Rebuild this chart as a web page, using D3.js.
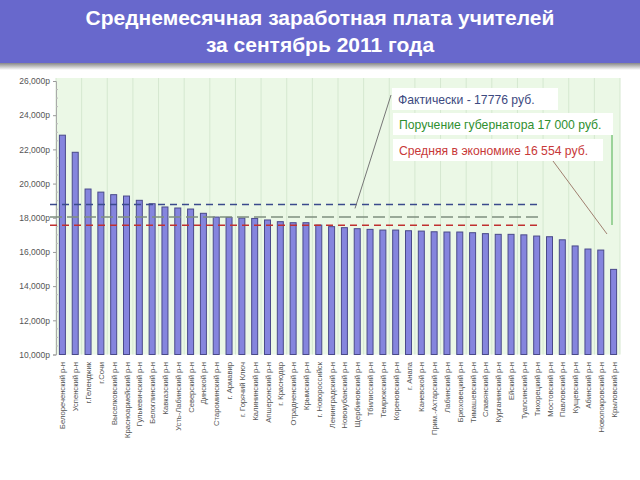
<!DOCTYPE html>
<html><head><meta charset="utf-8">
<script src="https://cdn.jsdelivr.net/npm/d3@7"></script>
<style>body{margin:0;background:#fff;}svg{display:block;font-family:"Liberation Sans",Arial,sans-serif;}</style>
</head><body>
<svg id="c" width="640" height="480"></svg>
<script>
const titleLines = ["Среднемесячная заработная плата учителей", "за сентябрь 2011 года"];
const categories = ["Белореченский р-н","Успенский р-н","г.Геленджик","г.Сочи","Выселковский р-н","Красноармейский р-н","Гулькевичский р-н","Белоглинский р-н","Кавказский р-н","Усть-Лабинский р-н","Северский р-н","Динской р-н","Староминский р-н","г. Армавир","г. Горячий Ключ","Калининский р-н","Апшеронский р-н","г. Краснодар","Отрадненский р-н","Крымский р-н","г. Новороссийск","Ленинградский р-н","Новокубанский р-н","Щербиновский р-н","Тбилисский р-н","Темрюкский р-н","Кореновский р-н","г. Анапа","Каневской р-н","Прим.-Ахтарский р-н","Лабинский р-н","Брюховецкий р-н","Тимашевский р-н","Славянский р-н","Курганинский р-н","Ейский р-н","Туапсинский р-н","Тихорецкий р-н","Мостовский р-н","Павловский р-н","Кущевский р-н","Абинский р-н","Новопокровский р-н","Крыловский р-н"];
const values = [22830,21830,19680,19500,19350,19270,19020,18820,18630,18570,18510,18260,18040,18020,17980,17960,17870,17770,17710,17710,17570,17480,17420,17360,17320,17280,17280,17240,17220,17180,17165,17165,17125,17070,17030,17030,17000,16930,16890,16710,16350,16170,16110,14980];
const yTicks = [10000,12000,14000,16000,18000,20000,22000,24000,26000];
const refLines = [
  {name:"Фактически  - 17776 руб.", pos:18780, color:"#3b4a8c", text:"#3d4a80", dash:"7,5"},
  {name:"Поручение губернатора 17 000 руб.", pos:18050, color:"#7f8f7f", text:"#2f8f2f", dash:"12,5"},
  {name:"Средняя в экономике 16 554 руб.", pos:17555, color:"#c03030", text:"#c83838", dash:"7,5"}
];

const svg = d3.select("#c");
const defs = svg.append("defs");
const g1 = defs.append("linearGradient").attr("id","sh").attr("x1",0).attr("y1",0).attr("x2",0).attr("y2",1);
g1.append("stop").attr("offset",0).attr("stop-color","#777");
g1.append("stop").attr("offset",1).attr("stop-color","#fff");
svg.append("rect").attr("x",0).attr("y",62).attr("width",640).attr("height",8).attr("fill","url(#sh)");
svg.append("rect").attr("x",0).attr("y",0).attr("width",640).attr("height",63).attr("fill","#6868cc");
svg.selectAll("text.title").data(titleLines).join("text").attr("class","title")
  .attr("x",320).attr("y",(d,i)=>25+i*27).attr("text-anchor","middle")
  .attr("fill","#fff").attr("font-weight","bold").attr("font-size","21px").text(d=>d);

const x = d3.scaleBand().domain(categories).range([56,620]).paddingInner(0).paddingOuter(0);
const y = d3.scaleLinear().domain([10000,26000]).range([354.5,81]);

svg.append("rect").attr("x",56).attr("y",78).attr("width",564).attr("height",276.5).attr("fill","#ebf8e6");
const gridIdx = d3.range(0, categories.length+1, 2);
svg.selectAll("line.vg").data(gridIdx).join("line").attr("class","vg")
  .attr("x1",i=>56+i*x.step()).attr("x2",i=>56+i*x.step())
  .attr("y1",78).attr("y2",354.5).attr("stroke","#d5e8d0").attr("stroke-width",1);

const yAxis = d3.axisLeft(y).tickValues(yTicks).tickSize(3).tickFormat(d=>d3.format(",")(d)+"р");
const ya = svg.append("g").attr("transform","translate(56,0)").call(yAxis);
ya.select(".domain").attr("stroke","#aaa");
ya.selectAll(".tick line").attr("stroke","#999");
ya.selectAll(".tick text").attr("fill","#555").attr("font-size","8.5px").attr("font-family","Liberation Sans, Arial, sans-serif");
const minor = d3.range(10000,26001,500).filter(v=>v%2000!==0);
svg.selectAll("line.mt").data(minor).join("line").attr("class","mt")
  .attr("x1",56).attr("x2",58).attr("y1",d=>y(d)).attr("y2",d=>y(d)).attr("stroke","#bbb");

const bw = 6;
svg.selectAll("rect.bar").data(values).join("rect").attr("class","bar")
  .attr("x",(d,i)=>x(categories[i])+x.bandwidth()/2-bw/2)
  .attr("y",d=>y(d)).attr("width",bw).attr("height",d=>y(10000)-y(d))
  .attr("fill","#8585de").attr("stroke","#4a4a8a").attr("stroke-width",1);

svg.selectAll("text.xl").data(categories).join("text").attr("class","xl")
  .attr("transform",d=>`translate(${x(d)+x.bandwidth()/2+3},362) rotate(-90)`)
  .attr("text-anchor","end").attr("fill","#555").attr("font-size","7.6px").text(d=>d);

svg.selectAll("line.ref").data(refLines).join("line").attr("class","ref")
  .attr("x1",50).attr("x2",540).attr("y1",d=>y(d.pos)).attr("y2",d=>y(d.pos))
  .attr("stroke",d=>d.color).attr("stroke-width",1.5).attr("stroke-dasharray",d=>d.dash);

svg.append("line").attr("x1",391).attr("y1",95).attr("x2",355).attr("y2",y(refLines[0].pos)+4).attr("stroke","#777").attr("stroke-width",1);
svg.append("line").attr("x1",612).attr("y1",130).attr("x2",612).attr("y2",225).attr("stroke","#66bb66").attr("stroke-width",1.2);
svg.append("line").attr("x1",553).attr("y1",161).attr("x2",607).attr("y2",234).attr("stroke","#a08070").attr("stroke-width",1);

const boxes = [{x:392,y:88,w:166},{x:393,y:113,w:220},{x:393,y:139,w:210}];
const lg = svg.selectAll("g.lg").data(refLines).join("g").attr("class","lg")
  .attr("transform",(d,i)=>`translate(${boxes[i].x},${boxes[i].y})`);
lg.append("rect").attr("width",(d,i)=>boxes[i].w).attr("height",22).attr("fill","#fff");
lg.append("text").attr("x",6).attr("y",15.5).attr("fill",d=>d.text).attr("font-size","12.2px")
  .attr("font-family","Liberation Sans, Arial, sans-serif").text(d=>d.name);
</script>
</body></html>
